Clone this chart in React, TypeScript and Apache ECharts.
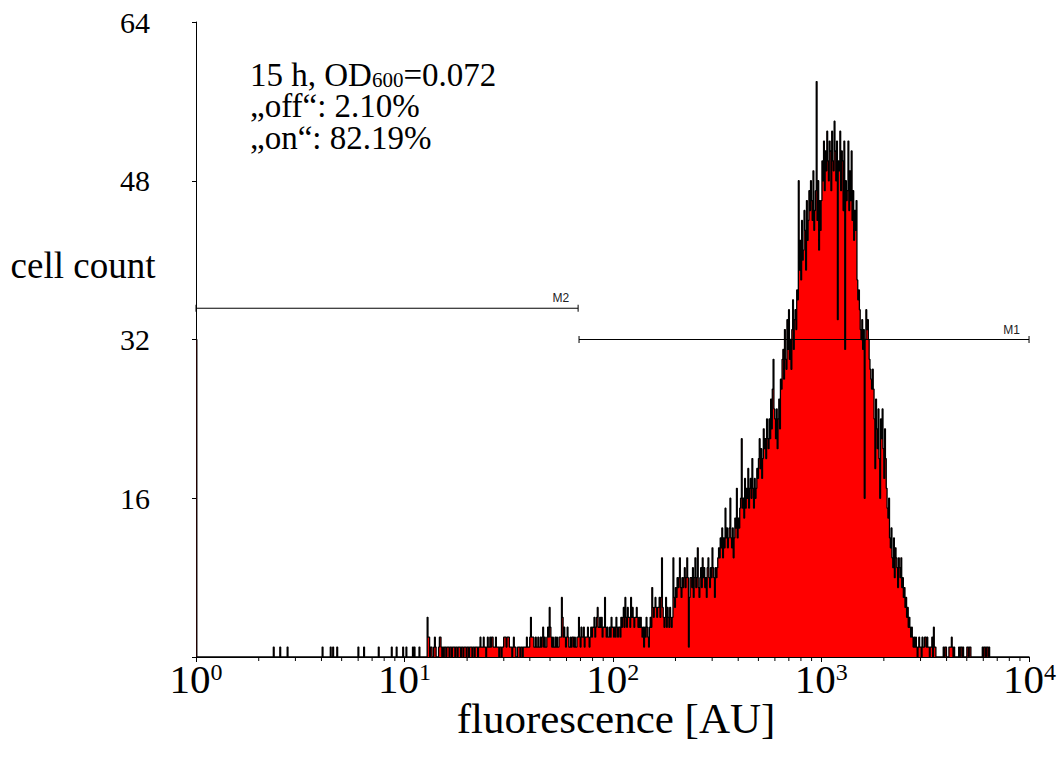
import React, { useEffect, useRef } from "react";
import * as echarts from "echarts";

// ---------- data ----------
const CHANNELS = 1024;
const DECADES = 4;
const channelZeroCount = 32;
const sparseLowChannels = [95, 103, 112, 155, 165, 168, 173, 199, 206, 224, 240, 246, 254];

const seg256 = [0,0,1,0,0,0,0,0, 0,0,1,0,1,0,0,0, 0,0,1,0,0,0,0,0, 0,0,0,0,4,2,2,0];
const seg288 = [1,1,0,0,1,2,1,0, 0,0,1,2,2,1,0,1, 0,1,1,0,1,1,1,0, 1,1,0,1,1,1,0,1];
const seg320 = [1,0,1,1,1,0,1,1, 0,1,1,1,0,1,1,0, 1,1,1,0,1,1,0,1, 1,1,0,1,1,2,1,1];
const seg352 = [1,2,1,1,0,1,2,1, 1,2,1,2,2,1,1,1, 2,1,1,1,0,1,1,0, 1,1,2,2,2,1,2,2];
const seg384 = [2,1,1,1,0,1,2,1, 1,0,0,1,1,1,0,1, 1,0,1,1,1,1,2,1, 1,1,2,4,2,2,2,1];
const seg416 = [1,2,1,1,2,1,1,2, 1,2,3,1,2,1,1,2, 3,2,5,3,2,1,2,1, 1,2,1,2,1,1,2,2];
const seg448 = [2,6,4,2,3,2,1,2, 3,2,1,1,2,1,2,2, 1,2,1,1,2,2,4,2, 1,3,2,2,3,1,2,2];
const seg480 = [2,3,2,1,2,3,2,3, 3,4,2,3,4,5,3,3, 4,3,4,2,3,3,6,3, 2,3,2,2,3,2,4,3];
const seg512 = [3,2,3,2,4,3,2,3, 3,2,4,3,4,5,3,6, 4,3,5,4,4,3,6,4, 5,4,3,4,4,5,4,3];
const seg544 = [4,3,4,3,2,3,1,3, 2,4,3,2,1,3,4,3, 7,5,4,5,6,5,4,5, 5,6,4,6,10,5,4,3];
const seg576 = [4,6,3,5,4,3,5,4, 3,4,10,6,5,7,6,8, 7,8,10,7,6,8,7,8, 9,7,8,10,8,1,6,8];
const seg608 = [8,7,9,6,8,10,7,8, 11,7,6,8,9,7,10,8, 9,7,8,6,9,10,8,7, 9,8,11,9,8,6,9,8];
const seg640 = [9,10,11,10,12,11,13,10, 12,11,15,12,13,11,12,13, 16,12,11,13,10,12,14,13, 17,12,14,13,15,16,22,15];
const seg672 = [16,14,18,15,17,16,19,15, 17,18,16,20,17,15,18,16, 17,19,18,20,22,19,21,18, 20,23,21,22,20,24,22,21];
const seg704 = [24,22,26,23,27,30,25,24, 22,25,21,24,26,23,28,27, 30,31,28,33,30,29,34,31, 35,30,32,29,33,36,31,34];
const seg736 = [35,33,37,36,48,39,42,38, 44,40,41,45,43,39,46,42, 44,47,45,48,46,44,49,43, 45,47,58,44,48,41,46,43];
const seg768 = [46,50,48,52,47,51,49,53, 50,48,52,51,47,53,50,49, 54,51,48,52,34,50,49,53, 47,51,50,45,52,31,48,46];
const seg800 = [47,52,45,49,46,51,44,47, 42,45,43,46,38,36,37,35, 33,32,34,31,33,16,32,35, 33,34,32,30,29,28,27,29];
const seg832 = [27,24,19,26,23,21,25,20, 16,24,22,25,21,18,23,20, 17,15,14,16,12,11,13,10, 9,12,8,11,10,9,7,10];
const seg864 = [9,8,10,7,8,6,7,5, 6,4,5,3,4,3,2,3, 2,1,2,1,2,1,0,1, 2,1,1,0,2,1,1,2];
const seg896 = [2,1,2,1,1,0,1,1, 2,0,3,1,1,0,0,0, 0,0,0,0,0,0,1,0, 1,1,0,0,0,1,1,1];
const seg928 = [2,1,0,1,0,0,0,0, 0,1,0,1,1,0,1,0, 0,0,0,1,1,0,1,1, 0,0,0,0,0,0,0,0];
const seg960 = [0,0,0,0,0,0,1,0, 1,1,0,1,1,0,1,0];

const segmentStarts = [256, 288, 320, 352, 384, 416, 448, 480, 512, 544, 576, 608, 640, 672, 704, 736, 768, 800, 832, 864, 896, 928, 960];
const segments = [seg256, seg288, seg320, seg352, seg384, seg416, seg448, seg480, seg512, seg544, seg576, seg608, seg640, seg672, seg704, seg736, seg768, seg800, seg832, seg864, seg896, seg928, seg960];

const yTickValues = [0, 16, 32, 48, 64];
const xTickExponents = ["0", "1", "2", "3", "4"];
const minorTickValues = [
  2, 3, 4, 5, 6, 7, 8, 9,
  20, 30, 40, 50, 60, 70, 80, 90,
  200, 300, 400, 500, 600, 700, 800, 900,
  2000, 3000, 4000, 5000, 6000, 7000, 8000, 9000,
];

const markerNames = ["M2", "M1"];
const markerStarts = [1, 68.9];
const markerEnds = [68.2, 9950];
const markerLevels = [35.15, 32];

const SERIF = "'Liberation Serif', 'Times New Roman', serif";

function buildCounts(): number[] {
  const counts = new Array(CHANNELS).fill(0);
  counts[0] = channelZeroCount;
  sparseLowChannels.forEach((c) => (counts[c] = 1));
  segments.forEach((seg, i) =>
    seg.forEach((v, j) => (counts[segmentStarts[i] + j] = v))
  );
  return counts;
}

export default function App() {
  const ref = useRef<HTMLDivElement>(null);

  useEffect(() => {
    if (!ref.current) return;
    const chart = echarts.init(ref.current, undefined, { renderer: "svg" });

    const counts = buildCounts();
    const histData: number[][] = counts.map((v, c) => [
      Math.pow(10, (c * DECADES) / CHANNELS),
      v,
    ]);
    histData.push([Math.pow(10, DECADES), 0]);

    const markerData = markerNames.map((_, i) => [
      markerStarts[i],
      markerEnds[i],
      markerLevels[i],
    ]);

    chart.setOption({
      animation: false,
      backgroundColor: "#ffffff",
      grid: { left: 196, right: 21, top: 22, bottom: 112, containLabel: false },
      xAxis: {
        type: "log",
        logBase: 10,
        min: 1,
        max: 10000,
        axisLine: { show: true, lineStyle: { color: "#000", width: 1 } },
        axisTick: { show: true, length: 5, lineStyle: { color: "#000" } },
        splitLine: { show: false },
        axisLabel: {
          margin: 3,
          color: "#000",
          formatter: (v: number) =>
            `{b|10}{s|${xTickExponents[Math.round(Math.log10(v))]}}`,
          rich: {
            b: { fontFamily: SERIF, fontSize: 41, color: "#000", lineHeight: 38 },
            s: { fontFamily: SERIF, fontSize: 24, color: "#000", verticalAlign: "top", lineHeight: 24 },
          },
        },
      },
      yAxis: {
        type: "value",
        min: yTickValues[0],
        max: yTickValues[yTickValues.length - 1],
        interval: 16,
        axisLine: { show: true, lineStyle: { color: "#000", width: 1 } },
        axisTick: { show: true, length: 4, lineStyle: { color: "#000" } },
        splitLine: { show: false },
        axisLabel: {
          margin: 46,
          color: "#000",
          fontFamily: SERIF,
          fontSize: 30,
          formatter: (v: number) => (v === 0 ? "" : String(v)),
        },
      },
      series: [
        {
          type: "line",
          data: histData,
          step: "end",
          symbol: "none",
          lineStyle: { color: "#000", width: 1.3 },
          areaStyle: { color: "#ff0000", opacity: 1 },
          z: 2,
        },
        {
          type: "custom",
          data: minorTickValues.map((v) => [v, 0]),
          clip: false,
          z: 3,
          renderItem: (params: any, api: any) => {
            const p = api.coord([api.value(0), 0]);
            return {
              type: "line",
              shape: { x1: p[0], y1: p[1], x2: p[0], y2: p[1] + 4 },
              style: { stroke: "#000", lineWidth: 1 },
            };
          },
        },
        {
          type: "custom",
          data: markerData,
          clip: false,
          z: 5,
          renderItem: (params: any, api: any) => {
            const a = api.coord([api.value(0), api.value(2)]);
            const b = api.coord([api.value(1), api.value(2)]);
            const name = markerNames[params.dataIndex];
            return {
              type: "group",
              children: [
                {
                  type: "line",
                  shape: { x1: a[0], y1: a[1], x2: b[0], y2: b[1] },
                  style: { stroke: "#000", lineWidth: 1 },
                },
                {
                  type: "line",
                  shape: { x1: a[0], y1: a[1] - 3.5, x2: a[0], y2: a[1] + 3.5 },
                  style: { stroke: "#000", lineWidth: 1 },
                },
                {
                  type: "line",
                  shape: { x1: b[0], y1: b[1] - 3.5, x2: b[0], y2: b[1] + 3.5 },
                  style: { stroke: "#000", lineWidth: 1 },
                },
                {
                  type: "text",
                  style: {
                    text: name,
                    x: b[0] - 9,
                    y: b[1] - 4,
                    align: "right",
                    verticalAlign: "bottom",
                    fontFamily: "'Liberation Sans', Arial, sans-serif",
                    fontSize: 12,
                    fill: "#222",
                  },
                },
              ],
            };
          },
        },
      ],
      graphic: [
        {
          type: "text",
          x: 83,
          y: 265,
          style: {
            text: "cell count",
            fontFamily: SERIF,
            fontSize: 37,
            fill: "#000",
            align: "center",
            verticalAlign: "middle",
          },
        },
        {
          type: "text",
          x: 616,
          y: 718,
          style: {
            text: "fluorescence [AU]",
            fontFamily: SERIF,
            fontSize: 43,
            fill: "#000",
            align: "center",
            verticalAlign: "middle",
          },
        },
        {
          type: "text",
          x: 250,
          y: 75,
          style: {
            text: "{a|15 h, OD}{b|600}{a|=0.072}",
            verticalAlign: "middle",
            rich: {
              a: { fontFamily: SERIF, fontSize: 33, fill: "#000", lineHeight: 30 },
              b: { fontFamily: SERIF, fontSize: 21, fill: "#000", lineHeight: 13, verticalAlign: "bottom" },
            },
          },
        },
        {
          type: "text",
          x: 250,
          y: 106,
          style: {
            text: "\u201Eoff\u201C: 2.10%",
            fontFamily: SERIF,
            fontSize: 33,
            lineHeight: 30,
            fill: "#000",
            verticalAlign: "middle",
          },
        },
        {
          type: "text",
          x: 250,
          y: 138,
          style: {
            text: "\u201Eon\u201C: 82.19%",
            fontFamily: SERIF,
            fontSize: 33,
            lineHeight: 30,
            fill: "#000",
            verticalAlign: "middle",
          },
        },
      ],
    });

    return () => chart.dispose();
  }, []);

  return (
    <div
      ref={ref}
      style={{
        position: "fixed",
        left: 0,
        top: 0,
        width: 1059,
        height: 769,
        background: "#fff",
      }}
    />
  );
}
